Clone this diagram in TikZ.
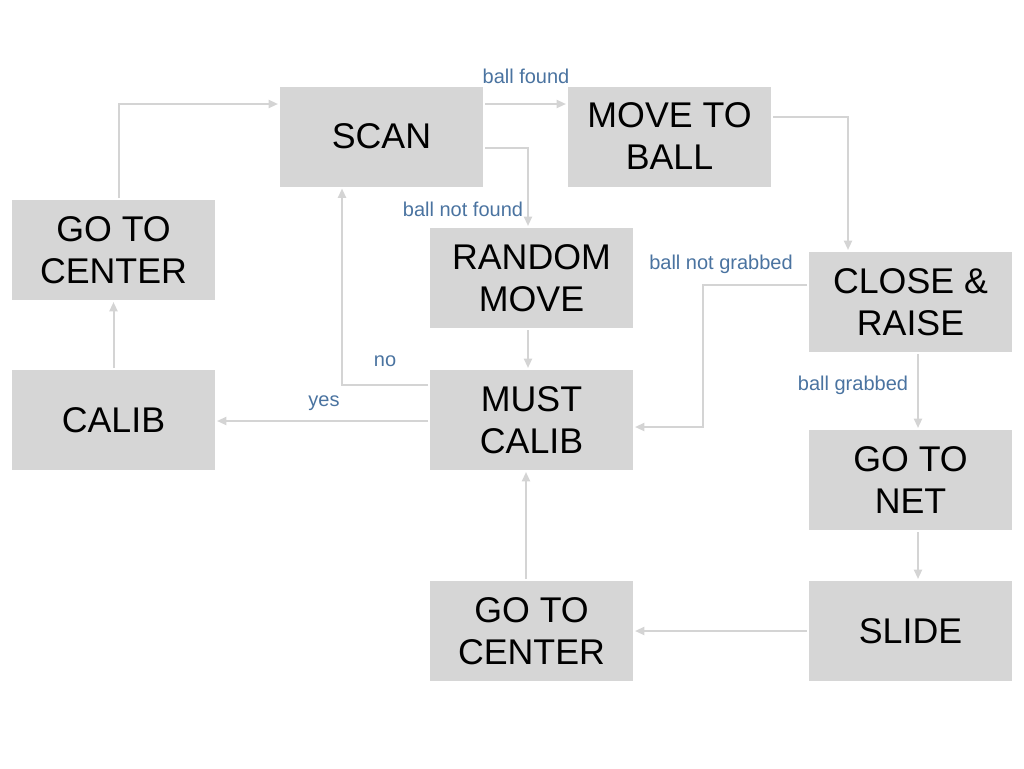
\documentclass[tikz,border=0pt]{standalone}
\usepackage{fontspec}
\setmainfont{Liberation Sans}
\usetikzlibrary{arrows.meta,calc}
\definecolor{boxgray}{HTML}{D6D6D6}
\definecolor{linegray}{HTML}{D4D4D4}
\definecolor{lblblue}{HTML}{4A73A0}
\begin{document}
\begin{tikzpicture}[x=0.75pt,y=-0.75pt,
 state/.style={fill=boxgray, minimum width=152.25pt, minimum height=75pt, inner sep=0pt, outer sep=1.5pt, align=center, font=\fontsize{26.8}{31.5}\selectfont},
 conn/.style={draw=linegray, line width=1.5pt, -{Triangle[length=7pt,width=6pt]}},
 lbl/.style={text=lblblue, inner sep=0pt, font=\fontsize{15}{18}\selectfont}]
\useasboundingbox (0,0) rectangle (1024,768);

\node[state] (scan)  at (381.5,136.5) {SCAN};
\node[state] (mtb)   at (669.5,136.5) {MOVE TO\\BALL};
\node[state] (gtcl)  at (113.5,250)   {GO TO\\CENTER};
\node[state] (rnd)   at (531.5,278)   {RANDOM\\MOVE};
\node[state] (cr)    at (910.5,302)   {CLOSE \&\\RAISE};
\node[state] (calib) at (113.5,420)   {CALIB};
\node[state] (must)  at (531.5,420)   {MUST\\CALIB};
\node[state] (net)   at (910.5,480)   {GO TO\\NET};
\node[state] (gtcb)  at (531.5,631)   {GO TO\\CENTER};
\node[state] (slide) at (910.5,631)   {SLIDE};

\draw[conn] ($(scan.east)+(0,-32.5)$) -- ($(mtb.west)+(0,-32.5)$);
\draw[conn] ($(scan.east)+(0,11.5)$) -| ($(rnd.north)+(-3.5,0)$);
\draw[conn] ($(mtb.east)+(0,-19.5)$) -| ($(cr.north)+(-62.5,0)$);
\draw[conn] ($(cr.west)+(0,-17)$) -| ($(must.east)+(68,0)$) |- ($(must.east)+(0,7)$);
\draw[conn] ($(cr.south)+(7.5,0)$) -- ($(net.north)+(7.5,0)$);
\draw[conn] ($(net.south)+(7.5,0)$) -- ($(slide.north)+(7.5,0)$);
\draw[conn] (slide.west) -- (gtcb.east);
\draw[conn] ($(gtcb.north)+(-5.5,0)$) -- ($(must.south)+(-5.5,0)$);
\draw[conn] ($(rnd.south)+(-3.5,0)$) -- ($(must.north)+(-3.5,0)$);
\draw[conn] ($(must.west)+(0,-35)$) -| ($(scan.south)+(-39.5,0)$);
\draw[conn] ($(must.west)+(0,1)$) -- ($(calib.east)+(0,1)$);
\draw[conn] (calib.north) -- (gtcl.south);
\draw[conn] ($(gtcl.north)+(5.5,0)$) |- ($(scan.west)+(0,-32.5)$);

\node[lbl] (l1) at (526,76)  {ball found};
\node[lbl] (l2) at (463,209) {ball not found};
\node[lbl] (l3) at (721,264) {ball not grabbed};
\node[lbl] (l4) at (853,385) {ball grabbed};
\node[lbl] (l5) at (385,361) {no};
\node[lbl] (l6) at (324,403) {yes};
\end{tikzpicture}
\end{document}
